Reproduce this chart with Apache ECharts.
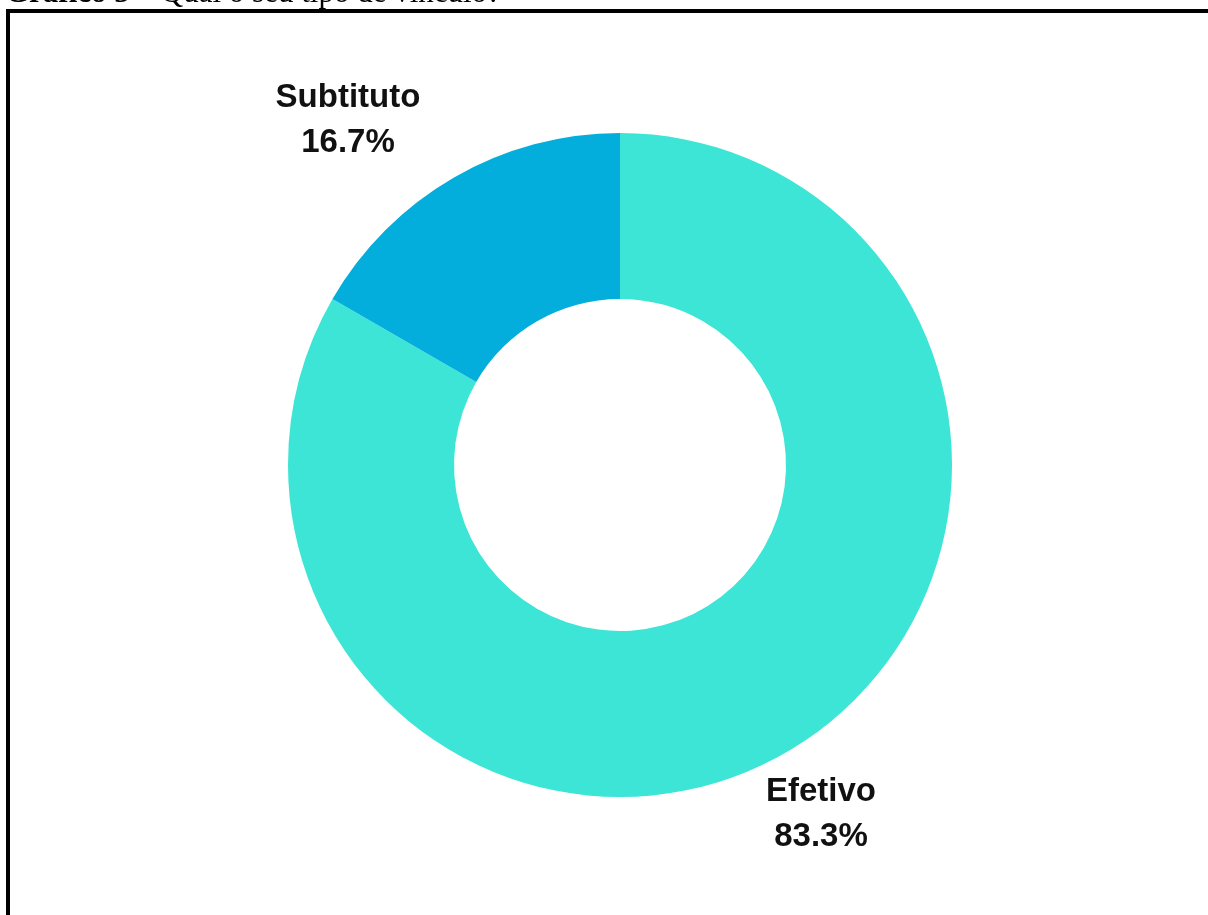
<!DOCTYPE html>
<html>
<head>
<meta charset="utf-8">
<script src="https://cdn.jsdelivr.net/npm/echarts@6/dist/echarts.min.js"></script>
<style>
  html, body { margin: 0; padding: 0; background: #ffffff; }
  #chart { width: 1208px; height: 915px; }
</style>
</head>
<body>
<div id="chart"></div>
<script>
// Employment bond of the respondents
const categories = ['Efetivo', 'Subtituto'];
const counts = [5, 1];
const colors = ['#3ce5d5', '#03aedc'];
// Where each slice's caption sits (label anchor, not the slice geometry)
const labelAnchors = { 'Efetivo': [821, 814], 'Subtituto': [348, 120] };

const chart = echarts.init(document.getElementById('chart'), null, { renderer: 'canvas' });

chart.setOption({
  backgroundColor: '#ffffff',
  animation: false,
  title: {
    text: '{b|Gráfico 5} – Qual o seu tipo de vínculo?',
    left: 5,
    top: -22,
    padding: 0,
    textStyle: {
      fontFamily: 'Liberation Serif',
      fontSize: 31,
      fontWeight: 'normal',
      color: '#000000',
      rich: {
        b: { fontFamily: 'Liberation Serif', fontSize: 31, fontWeight: 'bold', color: '#000000' }
      }
    }
  },
  graphic: [{
    type: 'rect',
    silent: true,
    z: 10,
    shape: { x: 8, y: 11, width: 1400, height: 1200 },
    style: { fill: 'none', stroke: '#000000', lineWidth: 4 }
  }],
  series: [{
    type: 'pie',
    center: [620, 465],
    radius: [166, 332],
    startAngle: 90,
    clockwise: true,
    percentPrecision: 1,
    avoidLabelOverlap: false,
    label: {
      show: true,
      position: 'outside',
      formatter: '{b}\n{d}%',
      fontFamily: 'Liberation Sans',
      fontSize: 33,
      fontWeight: 'bold',
      color: '#111111',
      lineHeight: 45,
      align: 'center'
    },
    labelLine: { show: false },
    labelLayout: function (params) {
      const name = categories[params.dataIndex];
      const a = labelAnchors[name];
      return { x: a[0], y: a[1], align: 'center', verticalAlign: 'middle' };
    },
    itemStyle: { borderWidth: 0 },
    emphasis: { disabled: true },
    data: categories.map((c, i) => ({ name: c, value: counts[i], itemStyle: { color: colors[i] } }))
  }]
});
</script>
</body>
</html>
